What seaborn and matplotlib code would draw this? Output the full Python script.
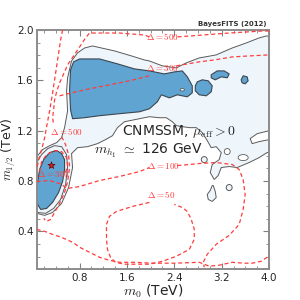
import matplotlib
matplotlib.use("Agg")
import matplotlib.pyplot as plt
from matplotlib.patches import Ellipse
from matplotlib.ticker import MultipleLocator
import seaborn as sns

# ---------------------------------------------------------------
# Data (m0, m1/2 in TeV)
# ---------------------------------------------------------------

# 95% credible region (light fill)
cl95_m0 = [0.076, 0.211, 0.345, 0.497, 0.615, 0.682, 0.665, 0.766, 0.935, 1.103,
           1.238, 1.356, 1.440, 1.558, 1.811, 1.979, 2.147, 2.265, 2.366, 2.434,
           2.535, 2.653, 2.771, 2.872, 2.956, 3.023, 3.107, 3.192, 3.158, 3.040,
           3.006, 3.074, 3.141, 3.192, 3.326, 3.461, 3.663, 3.832, 3.966, 4.0,
           4.0, 3.949, 3.832, 3.613, 3.377, 3.107, 2.821, 2.602, 2.434, 2.198,
           1.979, 1.895, 1.676, 1.389, 1.171, 1.019, 0.884, 0.766, 0.665, 0.598,
           0.581, 0.598, 0.547, 0.497, 0.413, 0.295, 0.177, 0.093, 0.076]
cl95_m12 = [0.543, 0.527, 0.550, 0.622, 0.748, 0.907, 1.018, 1.065, 1.073, 1.097,
            1.129, 1.160, 1.224, 1.271, 1.295, 1.311, 1.303, 1.303, 1.271, 1.240,
            1.232, 1.224, 1.224, 1.184, 1.121, 1.065, 1.073, 1.026, 0.970, 0.931,
            0.867, 0.812, 0.844, 0.907, 0.915, 0.907, 0.947, 0.986, 1.026, 1.026,
            1.952, 1.952, 1.937, 1.897, 1.857, 1.802, 1.778, 1.739, 1.699, 1.715,
            1.754, 1.762, 1.794, 1.834, 1.857, 1.873, 1.857, 1.818, 1.754, 1.620,
            1.517, 1.358, 1.224, 1.145, 1.105, 1.081, 1.050, 1.002, 0.970]

# 95% ring around the low-m0 island
ring_m0 = [0.076, 0.160, 0.261, 0.379, 0.497, 0.581, 0.598, 0.564, 0.480, 0.362, 0.227, 0.093]
ring_m12 = [0.947, 1.010, 1.057, 1.081, 1.073, 1.010, 0.907, 0.772, 0.653, 0.582, 0.543, 0.550]

# isolated 95% specks and holes: centre m0, centre m12, width, height
speck_m0 = [2.905, 3.326]
speck_m12 = [0.970, 0.748]
speck_w = [0.10, 0.10]
speck_h = [0.048, 0.048]

drop_m0 = [3.057, 3.091, 3.107, 3.040, 2.973, 2.956, 3.006, 3.040]
drop_m12 = [0.764, 0.717, 0.669, 0.638, 0.653, 0.693, 0.725, 0.764]

hole_m0 = [3.293, 3.562, 2.535]
hole_m12 = [1.034, 0.986, 1.525]
hole_w = [0.10, 0.17, 0.07]
hole_h = [0.048, 0.048, 0.02]

notch_m0 = [4.0, 3.798, 3.680, 3.714, 3.832, 4.0]
notch_m12 = [1.200, 1.176, 1.137, 1.097, 1.113, 1.129]

# 68% credible regions (dark fill)
cl68_main_m0 = [0.699, 0.800, 1.137, 1.440, 1.726, 1.979, 2.232, 2.400, 2.535, 2.619,
                2.703, 2.703, 2.619, 2.451, 2.316, 2.181, 2.114, 1.979, 1.811, 1.474,
                1.137, 0.884, 0.682, 0.648, 0.632, 0.648]
cl68_main_m12 = [1.747, 1.770, 1.770, 1.731, 1.691, 1.675, 1.651, 1.667, 1.675, 1.628,
                 1.556, 1.501, 1.469, 1.485, 1.461, 1.485, 1.430, 1.374, 1.350, 1.335,
                 1.319, 1.303, 1.295, 1.366, 1.525, 1.683]

cl68_a_m0 = [2.754, 2.787, 2.872, 2.973, 3.040, 3.023, 2.939, 2.821, 2.754]
cl68_a_m12 = [1.556, 1.588, 1.604, 1.596, 1.556, 1.509, 1.477, 1.485, 1.517]

cl68_b_m0 = [3.023, 3.124, 3.242, 3.326, 3.293, 3.192, 3.091, 3.023]
cl68_b_m12 = [1.644, 1.675, 1.675, 1.651, 1.620, 1.628, 1.604, 1.620]

cl68_c_m0 = [3.528, 3.562, 3.629, 3.646, 3.596, 3.545]
cl68_c_m12 = [1.604, 1.636, 1.628, 1.596, 1.572, 1.580]

cl68_low_m0 = [0.413, 0.497, 0.547, 0.547, 0.514, 0.446, 0.345, 0.244, 0.143, 0.093,
               0.076, 0.093, 0.126, 0.194, 0.295]
cl68_low_m12 = [1.042, 1.018, 0.970, 0.891, 0.796, 0.709, 0.630, 0.582, 0.574, 0.614,
                0.693, 0.796, 0.891, 0.970, 1.026]

# best fit point
best_m0 = [0.32]
best_m12 = [0.93]

# fine-tuning contours (Delta)
d500_top_m0 = [4.0, 3.882, 3.326, 2.872, 2.653, 2.434]
d500_top_m12 = [1.992, 1.992, 1.976, 1.960, 1.952, 1.945]

d500_left_m0 = [1.979, 1.895, 1.474, 0.968, 0.901, 0.800, 0.699, 0.598, 0.531, 0.463,
                0.413, 0.379, 0.362, 0.345, 0.362]
d500_left_m12 = [1.945, 1.960, 1.976, 1.976, 1.937, 1.865, 1.794, 1.723, 1.651, 1.580,
                 1.509, 1.446, 1.366, 1.303, 1.248]

d500_low_m0 = [0.497, 0.564, 0.615, 0.632, 0.598, 0.547, 0.463, 0.379, 0.312, 0.244, 0.194]
d500_low_m12 = [1.152, 1.089, 1.010, 0.907, 0.796, 0.709, 0.622, 0.550, 0.495, 0.479, 0.503]

dfar_m0 = [0.514, 0.480, 0.429, 0.379, 0.345, 0.295, 0.244, 0.211, 0.160, 0.110, 0.076]
dfar_m12 = [2.0, 1.921, 1.762, 1.604, 1.501, 1.358, 1.232, 1.145, 1.050, 0.970, 0.891]

d300_left_m0 = [0.463, 0.598, 0.968, 1.305, 1.642, 1.979]
d300_left_m12 = [1.477, 1.493, 1.533, 1.564, 1.596, 1.636]

d300_right_m0 = [2.434, 2.821, 3.074, 3.377, 3.663, 4.0]
d300_right_m12 = [1.715, 1.747, 1.762, 1.786, 1.794, 1.802]

d300_low_m0 = [0.126, 0.160, 0.244, 0.379, 0.497, 0.581, 0.598, 0.564]
d300_low_m12 = [0.875, 0.954, 1.010, 1.042, 1.034, 0.986, 0.923, 0.867]

d100_left_m0 = [0.076, 0.295, 0.463, 0.598, 0.800, 1.137, 1.474, 1.811, 1.979]
d100_left_m12 = [0.796, 0.804, 0.780, 0.741, 0.756, 0.804, 0.836, 0.875, 0.907]

d100_right_m0 = [2.451, 2.653, 2.821, 3.107, 3.377, 3.495, 3.562, 3.596, 3.562, 3.495,
                 3.326, 3.107, 2.956, 2.888, 2.905]
d100_right_m12 = [0.923, 0.931, 0.939, 0.947, 0.931, 0.891, 0.812, 0.693, 0.574, 0.455,
                  0.368, 0.297, 0.218, 0.154, 0.115]

d50_m0 = [1.979, 1.693, 1.423, 1.305, 1.255, 1.255, 1.272, 1.322, 1.406, 1.558, 1.811,
          1.979, 2.198, 2.434, 2.653, 2.737, 2.737, 2.686, 2.619, 2.535, 2.400]
d50_m12 = [0.630, 0.598, 0.558, 0.519, 0.455, 0.337, 0.257, 0.194, 0.154, 0.139, 0.139,
           0.139, 0.162, 0.202, 0.257, 0.337, 0.416, 0.495, 0.558, 0.590, 0.614]

dbot_m0 = [0.076, 0.211, 0.345, 0.497, 0.682, 0.834, 0.968, 1.137, 1.305, 1.474, 1.726,
           2.029, 2.400, 2.821, 2.989, 3.158, 3.377, 3.579, 3.714, 3.865, 3.966, 4.0]
dbot_m12 = [0.416, 0.400, 0.376, 0.352, 0.313, 0.265, 0.234, 0.194, 0.170, 0.154, 0.154,
            0.147, 0.147, 0.154, 0.123, 0.131, 0.154, 0.147, 0.147, 0.162, 0.194, 0.202]

# contour labels
label_text = [r"$\Delta=500$", r"$\Delta=300$", r"$\Delta=500$", r"$\Delta=300$",
              r"$\Delta=100$", r"$\Delta=50$"]
label_m0 = [2.20, 2.20, 0.58, 0.36, 2.22, 2.18]
label_m12 = [1.945, 1.699, 1.192, 0.852, 0.923, 0.693]

# ---------------------------------------------------------------
# Style
# ---------------------------------------------------------------
sns.set_style("ticks")
plt.rcParams["font.family"] = ["DejaVu Sans"]
plt.rcParams["mathtext.fontset"] = "cm"

LIGHT = "#eef6fc"
DARK = "#60a4d1"
RED = "#ff3c3c"
DASH = (0, (3.2, 2.2))

fig = plt.figure(figsize=(3, 3), dpi=100)
ax = fig.add_axes([0.123, 0.103, 0.774, 0.797])

# 95% region
ax.fill(cl95_m0, cl95_m12, facecolor=LIGHT, edgecolor="#5a5a5a", lw=0.7, zorder=1)
ax.plot(ring_m0, ring_m12, color="#5a5a5a", lw=0.7, zorder=1.2)
ax.fill(drop_m0, drop_m12, facecolor=LIGHT, edgecolor="#5a5a5a", lw=0.7, zorder=1)
for cx, cy, w, h in zip(speck_m0, speck_m12, speck_w, speck_h):
    ax.add_patch(Ellipse((cx, cy), w, h, facecolor=LIGHT, edgecolor="#5a5a5a", lw=0.7, zorder=1))
ax.fill(notch_m0, notch_m12, facecolor="white", edgecolor="#5a5a5a", lw=0.7, zorder=1.1)

# 68% regions
for xs, ys in [(cl68_main_m0, cl68_main_m12), (cl68_a_m0, cl68_a_m12),
               (cl68_b_m0, cl68_b_m12), (cl68_c_m0, cl68_c_m12),
               (cl68_low_m0, cl68_low_m12)]:
    ax.fill(xs, ys, facecolor=DARK, edgecolor="#3c4650", lw=0.8, zorder=2)

for cx, cy, w, h in zip(hole_m0, hole_m12, hole_w, hole_h):
    face = LIGHT if cy > 1.2 else "white"
    ax.add_patch(Ellipse((cx, cy), w, h, facecolor=face, edgecolor="#5a5a5a", lw=0.6, zorder=2.1))

# fine-tuning contours
delta_lines = [
    (d500_top_m0, d500_top_m12), (d500_left_m0, d500_left_m12),
    (d500_low_m0, d500_low_m12), (dfar_m0, dfar_m12),
    (d300_left_m0, d300_left_m12), (d300_right_m0, d300_right_m12),
    (d300_low_m0, d300_low_m12), (d100_left_m0, d100_left_m12),
    (d100_right_m0, d100_right_m12), (d50_m0, d50_m12), (dbot_m0, dbot_m12),
]
for xs, ys in delta_lines:
    sns.lineplot(x=xs, y=ys, sort=False, estimator=None, color=RED, lw=0.9,
                 linestyle=DASH, ax=ax, zorder=3)

for t, x, y in zip(label_text, label_m0, label_m12):
    ax.text(x, y, t, color=RED, fontsize=6.5, ha="center", va="center", zorder=4)

sns.scatterplot(x=best_m0, y=best_m12, marker="*", s=28, color="#d8202a",
                edgecolor="#6a0000", linewidth=0.5, ax=ax, zorder=5)

ax.text(1.52, 1.192, r"CNMSSM, $\mu_{\rm eff}>0$", fontsize=10, ha="left", va="center", zorder=6)
ax.text(1.05, 1.042, r"$m_{h_1}$ $\simeq$ 126 GeV", fontsize=10, ha="left", va="center", zorder=6)

# axes
ax.set_xlim(0.08, 4.0)
ax.set_ylim(0.1, 2.0)
ax.set_xticks([0.8, 1.6, 2.4, 3.2, 4.0])
ax.set_yticks([0.4, 0.8, 1.2, 1.6, 2.0])
ax.xaxis.set_minor_locator(MultipleLocator(0.2))
ax.yaxis.set_minor_locator(MultipleLocator(0.1))
ax.tick_params(which="both", direction="in", top=True, right=True, color="#808080",
               labelsize=7.5, pad=2.5)
ax.tick_params(which="major", length=4, width=0.8)
ax.tick_params(which="minor", length=2, width=0.6)
for sp in ax.spines.values():
    sp.set_color("#8c8c8c")
    sp.set_linewidth(1.4)

ax.set_xlabel(r"$m_0$ (TeV)", fontsize=10, labelpad=0)
ax.set_ylabel(r"$m_{1/2}$ (TeV)", fontsize=9)
ax.yaxis.set_label_coords(-0.082, 0.5)

fig.text(0.89, 0.92, "BayesFITS (2012)", ha="right", va="center", fontsize=5,
         fontweight="bold", color="#333333")

fig.savefig("out.png", dpi=100)
